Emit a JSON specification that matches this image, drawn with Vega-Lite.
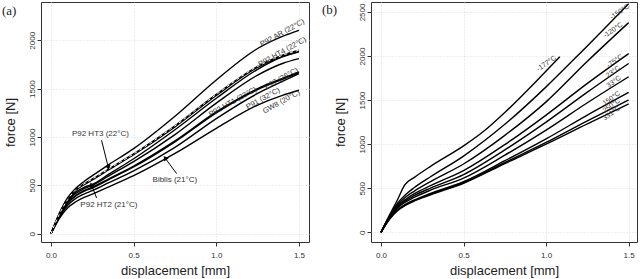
{
  "$schema": "https://vega.github.io/schema/vega-lite/v6.json",
  "background": "white",
  "padding": {"left": 1, "top": 0, "right": 0, "bottom": 0},
  "spacing": 62,
  "bounds": "flush",
  "config": {
    "view": {"stroke": "#333", "strokeWidth": 1},
    "font": "Liberation Sans",
    "axis": {
      "domain": false, "tickColor": "#333", "tickSize": 4, "labelColor": "#333", "labelFontSize": 8,
      "titleFontSize": 13, "titleFontWeight": "normal", "titleColor": "#222",
      "gridColor": "#d4d4d4", "gridDash": [1, 2], "gridWidth": 0.8
    },
    "axisX": {"labelPadding": 5, "titlePadding": 5},
    "axisY": {"labelAngle": -90, "labelAlign": "center", "labelBaseline": "bottom", "labelPadding": 1, "titlePadding": 11, "format": "d"}
  },
  "datasets": {
    "a": [
      {"c":"AR","x":0,"y":0},{"c":"AR","x":0.025,"y":110},{"c":"AR","x":0.05,"y":210},{"c":"AR","x":0.1,"y":370},{"c":"AR","x":0.15,"y":470},{"c":"AR","x":0.2,"y":540},{"c":"AR","x":0.25,"y":600},{"c":"AR","x":0.35,"y":715},{"c":"AR","x":0.5,"y":880},{"c":"AR","x":0.75,"y":1215},{"c":"AR","x":1.0,"y":1590},{"c":"AR","x":1.25,"y":1915},{"c":"AR","x":1.4,"y":2040},{"c":"AR","x":1.5,"y":2103},
      {"c":"HT3","x":0,"y":0},{"c":"HT3","x":0.025,"y":105},{"c":"HT3","x":0.05,"y":200},{"c":"HT3","x":0.1,"y":350},{"c":"HT3","x":0.15,"y":455},{"c":"HT3","x":0.2,"y":515},{"c":"HT3","x":0.25,"y":565},{"c":"HT3","x":0.35,"y":670},{"c":"HT3","x":0.5,"y":825},{"c":"HT3","x":0.75,"y":1115},{"c":"HT3","x":1.0,"y":1440},{"c":"HT3","x":1.25,"y":1730},{"c":"HT3","x":1.4,"y":1845},{"c":"HT3","x":1.5,"y":1897},
      {"c":"HT4","x":0,"y":0},{"c":"HT4","x":0.025,"y":100},{"c":"HT4","x":0.05,"y":195},{"c":"HT4","x":0.1,"y":345},{"c":"HT4","x":0.15,"y":448},{"c":"HT4","x":0.2,"y":507},{"c":"HT4","x":0.25,"y":556},{"c":"HT4","x":0.35,"y":661},{"c":"HT4","x":0.5,"y":816},{"c":"HT4","x":0.75,"y":1105},{"c":"HT4","x":1.0,"y":1430},{"c":"HT4","x":1.25,"y":1720},{"c":"HT4","x":1.4,"y":1835},{"c":"HT4","x":1.5,"y":1887},
      {"c":"HT2","x":0,"y":0},{"c":"HT2","x":0.025,"y":98},{"c":"HT2","x":0.05,"y":190},{"c":"HT2","x":0.1,"y":335},{"c":"HT2","x":0.15,"y":430},{"c":"HT2","x":0.2,"y":480},{"c":"HT2","x":0.25,"y":510},{"c":"HT2","x":0.35,"y":615},{"c":"HT2","x":0.5,"y":775},{"c":"HT2","x":0.75,"y":1075},{"c":"HT2","x":1.0,"y":1400},{"c":"HT2","x":1.25,"y":1700},{"c":"HT2","x":1.4,"y":1828},{"c":"HT2","x":1.5,"y":1880},
      {"c":"HT1","x":0,"y":0},{"c":"HT1","x":0.025,"y":95},{"c":"HT1","x":0.05,"y":185},{"c":"HT1","x":0.1,"y":325},{"c":"HT1","x":0.15,"y":415},{"c":"HT1","x":0.2,"y":465},{"c":"HT1","x":0.25,"y":500},{"c":"HT1","x":0.35,"y":598},{"c":"HT1","x":0.5,"y":745},{"c":"HT1","x":0.75,"y":1025},{"c":"HT1","x":1.0,"y":1350},{"c":"HT1","x":1.25,"y":1640},{"c":"HT1","x":1.4,"y":1760},{"c":"HT1","x":1.5,"y":1810},
      {"c":"E97","x":0,"y":0},{"c":"E97","x":0.025,"y":92},{"c":"E97","x":0.05,"y":180},{"c":"E97","x":0.1,"y":315},{"c":"E97","x":0.15,"y":395},{"c":"E97","x":0.2,"y":445},{"c":"E97","x":0.25,"y":480},{"c":"E97","x":0.35,"y":568},{"c":"E97","x":0.5,"y":700},{"c":"E97","x":0.75,"y":960},{"c":"E97","x":1.0,"y":1260},{"c":"E97","x":1.25,"y":1500},{"c":"E97","x":1.4,"y":1605},{"c":"E97","x":1.5,"y":1672},
      {"c":"P91","x":0,"y":0},{"c":"P91","x":0.025,"y":90},{"c":"P91","x":0.05,"y":177},{"c":"P91","x":0.1,"y":310},{"c":"P91","x":0.15,"y":390},{"c":"P91","x":0.2,"y":438},{"c":"P91","x":0.25,"y":472},{"c":"P91","x":0.35,"y":560},{"c":"P91","x":0.5,"y":690},{"c":"P91","x":0.75,"y":950},{"c":"P91","x":1.0,"y":1250},{"c":"P91","x":1.25,"y":1490},{"c":"P91","x":1.4,"y":1597},{"c":"P91","x":1.5,"y":1665},
      {"c":"Biblis","x":0,"y":0},{"c":"Biblis","x":0.025,"y":85},{"c":"Biblis","x":0.05,"y":168},{"c":"Biblis","x":0.1,"y":290},{"c":"Biblis","x":0.15,"y":365},{"c":"Biblis","x":0.2,"y":410},{"c":"Biblis","x":0.25,"y":445},{"c":"Biblis","x":0.35,"y":527},{"c":"Biblis","x":0.5,"y":650},{"c":"Biblis","x":0.75,"y":893},{"c":"Biblis","x":1.0,"y":1190},{"c":"Biblis","x":1.25,"y":1450},{"c":"Biblis","x":1.4,"y":1575},{"c":"Biblis","x":1.5,"y":1655},
      {"c":"GW8","x":0,"y":0},{"c":"GW8","x":0.025,"y":80},{"c":"GW8","x":0.05,"y":155},{"c":"GW8","x":0.1,"y":265},{"c":"GW8","x":0.15,"y":330},{"c":"GW8","x":0.2,"y":375},{"c":"GW8","x":0.25,"y":410},{"c":"GW8","x":0.35,"y":485},{"c":"GW8","x":0.5,"y":600},{"c":"GW8","x":0.75,"y":830},{"c":"GW8","x":1.0,"y":1090},{"c":"GW8","x":1.25,"y":1330},{"c":"GW8","x":1.4,"y":1430},{"c":"GW8","x":1.5,"y":1483}
    ],
    "alab": [
      {"t":"P92 AR (22°C)","x":1.40,"y":2075},
      {"t":"P92 HT4 (22°C)","x":1.40,"y":1879},
      {"t":"P92 HT1 (23°C)","x":1.10,"y":1362},
      {"t":"E97 (26°C)","x":1.394,"y":1603},
      {"t":"P91 (32°C)","x":1.283,"y":1396},
      {"t":"GW8 (20°C)","x":1.394,"y":1362}
    ],
    "alab2": [
      {"t":"P92 HT3 (22°C)","x":0.299,"y":1034},
      {"t":"Biblis (21°C)","x":0.749,"y":552},
      {"t":"P92 HT2 (21°C)","x":0.350,"y":300}
    ],
    "arr": [
      {"k":"HT3","x":0.306,"y":966,"x2":0.346,"y2":690},
      {"k":"Biblis","x":0.760,"y":621,"x2":0.693,"y2":776},
      {"k":"HT2","x":0.276,"y":369,"x2":0.246,"y2":500}
    ],
    "b": [
      {"c":"-177","x":0,"y":0},{"c":"-177","x":0.05,"y":190},{"c":"-177","x":0.1,"y":370},{"c":"-177","x":0.145,"y":540},{"c":"-177","x":0.2,"y":620},{"c":"-177","x":0.3,"y":748},{"c":"-177","x":0.5,"y":980},{"c":"-177","x":0.62,"y":1143},{"c":"-177","x":0.75,"y":1360},{"c":"-177","x":1.0,"y":1830},{"c":"-177","x":1.083,"y":1991},
      {"c":"-150","x":0,"y":0},{"c":"-150","x":0.05,"y":180},{"c":"-150","x":0.1,"y":330},{"c":"-150","x":0.15,"y":430},{"c":"-150","x":0.2,"y":505},{"c":"-150","x":0.3,"y":630},{"c":"-150","x":0.5,"y":865},{"c":"-150","x":0.75,"y":1225},{"c":"-150","x":1.0,"y":1650},{"c":"-150","x":1.184,"y":1991},{"c":"-150","x":1.5,"y":2594},
      {"c":"-120","x":0,"y":0},{"c":"-120","x":0.05,"y":175},{"c":"-120","x":0.1,"y":310},{"c":"-120","x":0.15,"y":400},{"c":"-120","x":0.2,"y":465},{"c":"-120","x":0.3,"y":575},{"c":"-120","x":0.5,"y":775},{"c":"-120","x":0.75,"y":1100},{"c":"-120","x":1.0,"y":1480},{"c":"-120","x":1.25,"y":1940},{"c":"-120","x":1.5,"y":2379},
      {"c":"-75","x":0,"y":0},{"c":"-75","x":0.05,"y":170},{"c":"-75","x":0.1,"y":295},{"c":"-75","x":0.15,"y":375},{"c":"-75","x":0.2,"y":435},{"c":"-75","x":0.3,"y":530},{"c":"-75","x":0.5,"y":700},{"c":"-75","x":0.75,"y":995},{"c":"-75","x":1.0,"y":1330},{"c":"-75","x":1.25,"y":1690},{"c":"-75","x":1.5,"y":2028},
      {"c":"23","x":0,"y":0},{"c":"23","x":0.05,"y":165},{"c":"23","x":0.1,"y":285},{"c":"23","x":0.15,"y":360},{"c":"23","x":0.2,"y":415},{"c":"23","x":0.3,"y":502},{"c":"23","x":0.5,"y":655},{"c":"23","x":0.75,"y":935},{"c":"23","x":1.0,"y":1250},{"c":"23","x":1.25,"y":1590},{"c":"23","x":1.5,"y":1915},
      {"c":"33","x":0,"y":0},{"c":"33","x":0.05,"y":160},{"c":"33","x":0.1,"y":275},{"c":"33","x":0.15,"y":345},{"c":"33","x":0.2,"y":395},{"c":"33","x":0.3,"y":478},{"c":"33","x":0.5,"y":615},{"c":"33","x":0.75,"y":875},{"c":"33","x":1.0,"y":1160},{"c":"33","x":1.25,"y":1470},{"c":"33","x":1.5,"y":1765},
      {"c":"150","x":0,"y":0},{"c":"150","x":0.05,"y":150},{"c":"150","x":0.1,"y":255},{"c":"150","x":0.15,"y":320},{"c":"150","x":0.2,"y":365},{"c":"150","x":0.3,"y":440},{"c":"150","x":0.5,"y":575},{"c":"150","x":0.75,"y":812},{"c":"150","x":1.0,"y":1060},{"c":"150","x":1.25,"y":1330},{"c":"150","x":1.5,"y":1587},
      {"c":"250","x":0,"y":0},{"c":"250","x":0.05,"y":148},{"c":"250","x":0.1,"y":250},{"c":"250","x":0.15,"y":315},{"c":"250","x":0.2,"y":360},{"c":"250","x":0.3,"y":432},{"c":"250","x":0.5,"y":565},{"c":"250","x":0.75,"y":792},{"c":"250","x":1.0,"y":1020},{"c":"250","x":1.25,"y":1265},{"c":"250","x":1.5,"y":1501},
      {"c":"331","x":0,"y":0},{"c":"331","x":0.05,"y":145},{"c":"331","x":0.1,"y":245},{"c":"331","x":0.15,"y":308},{"c":"331","x":0.2,"y":354},{"c":"331","x":0.3,"y":425},{"c":"331","x":0.5,"y":556},{"c":"331","x":0.75,"y":780},{"c":"331","x":1.0,"y":1000},{"c":"331","x":1.25,"y":1230},{"c":"331","x":1.5,"y":1456}
    ],
    "blab": [
      {"t":"-177°C","x":1.002,"y":1915},
      {"t":"-150°C","x":1.446,"y":2500},
      {"t":"-120°C","x":1.405,"y":2293},
      {"t":"-75°C","x":1.416,"y":1942},
      {"t":"23°C","x":1.405,"y":1821},
      {"t":"33°C","x":1.41,"y":1708},
      {"t":"150°C","x":1.396,"y":1519},
      {"t":"250°C","x":1.396,"y":1437},
      {"t":"331°C","x":1.396,"y":1350}
    ]
  },
  "hconcat": [
    {
      "width": 268, "height": 240,
      "title": {"text": "(a)", "orient": "top", "anchor": "start", "frame": "bounds", "offset": -16, "dx": -2, "font": "Liberation Serif", "fontSize": 13, "fontWeight": "normal", "color": "#222"},
      "encoding": {
        "x": {"field": "x", "type": "quantitative", "scale": {"domain": [-0.0604, 1.5607], "nice": false, "zero": false},
              "axis": {"title": "displacement [mm]", "values": [0, 0.5, 1, 1.5], "format": ".1f", "grid": true}},
        "y": {"field": "y", "type": "quantitative", "scale": {"domain": [-86, 2396], "nice": false, "zero": false},
              "axis": {"title": "force  [N]", "values": [0, 500, 1000, 1500, 2000], "grid": true}}
      },
      "layer": [
        {"data": {"name": "a"}, "mark": {"type": "line", "color": "black", "strokeWidth": 1.4, "interpolate": "monotone"}, "encoding": {"detail": {"field": "c"}}},
        {"data": {"name": "a"}, "transform": [{"filter": "datum.c === 'HT3'"}], "mark": {"type": "line", "color": "white", "strokeWidth": 1, "strokeDash": [3, 3], "interpolate": "monotone"}, "encoding": {}},
        {"data": {"name": "alab"}, "mark": {"type": "text", "angle": 331, "fontSize": 7.5, "fill": "#333"}, "encoding": {"text": {"field": "t"}}},
        {"data": {"name": "alab2"}, "mark": {"type": "text", "fontSize": 8, "fill": "#333"}, "encoding": {"text": {"field": "t"}}},
        {"data": {"name": "arr"}, "mark": {"type": "rule", "color": "black", "strokeWidth": 1}, "encoding": {"x2": {"field": "x2"}, "y2": {"field": "y2"}}},
        {"data": {"name": "arr"}, "transform": [{"filter": "datum.k === 'HT3'"}], "mark": {"type": "point", "shape": "triangle", "filled": true, "color": "black", "size": 30, "angle": 167, "opacity": 1}, "encoding": {"x": {"field": "x2"}, "y": {"field": "y2"}}},
        {"data": {"name": "arr"}, "transform": [{"filter": "datum.k === 'Biblis'"}], "mark": {"type": "point", "shape": "triangle", "filled": true, "color": "black", "size": 30, "angle": 324, "opacity": 1}, "encoding": {"x": {"field": "x2"}, "y": {"field": "y2"}}},
        {"data": {"name": "arr"}, "transform": [{"filter": "datum.k === 'HT2'"}], "mark": {"type": "point", "shape": "triangle", "filled": true, "color": "black", "size": 30, "angle": 338, "opacity": 1}, "encoding": {"x": {"field": "x2"}, "y": {"field": "y2"}}}
      ]
    },
    {
      "width": 266, "height": 240,
      "title": {"text": "(b)", "orient": "top", "anchor": "start", "frame": "bounds", "offset": -16, "dx": -12, "font": "Liberation Serif", "fontSize": 13, "fontWeight": "normal", "color": "#222"},
      "encoding": {
        "x": {"field": "x", "type": "quantitative", "scale": {"domain": [-0.0605, 1.5505], "nice": false, "zero": false},
              "axis": {"title": "displacement [mm]", "values": [0, 0.5, 1, 1.5], "format": ".1f", "grid": true}},
        "y": {"field": "y", "type": "quantitative", "scale": {"domain": [-110, 2613], "nice": false, "zero": false},
              "axis": {"title": "force  [N]", "values": [0, 500, 1000, 1500, 2000, 2500], "grid": true}}
      },
      "layer": [
        {"data": {"name": "b"}, "mark": {"type": "line", "color": "black", "strokeWidth": 1.4, "interpolate": "monotone"}, "encoding": {"detail": {"field": "c"}}},
        {"data": {"name": "blab"}, "mark": {"type": "text", "angle": 325, "fontSize": 7, "fill": "#333"}, "encoding": {"text": {"field": "t"}}}
      ]
    }
  ]
}
